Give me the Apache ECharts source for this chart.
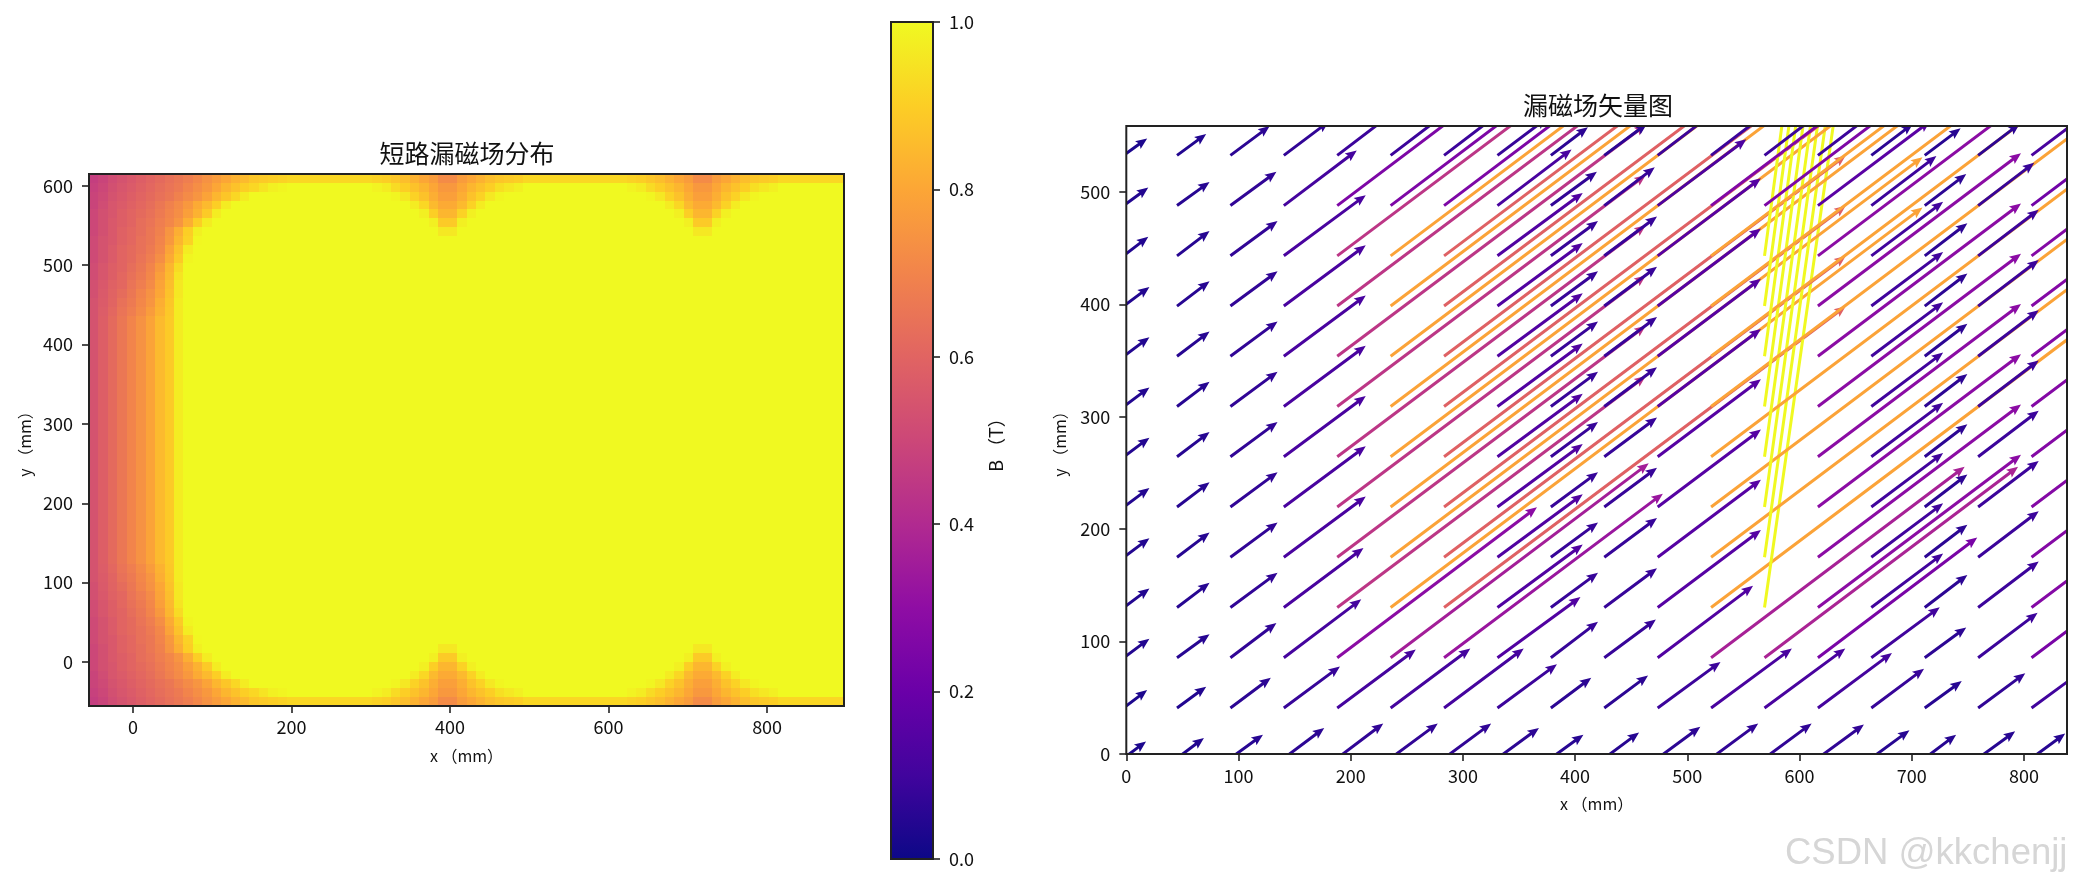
<!DOCTYPE html>
<html><head><meta charset="utf-8">
<style>html,body{margin:0;padding:0;background:#fff}#c{width:2084px;height:884px}</style>
<script src="https://cdn.jsdelivr.net/npm/echarts@6/dist/echarts.min.js"></script>
</head><body><div id="c"></div>
<script>
// ---------- heat map readings (B in T, saturated at 1) ----------
const heatCols = 80, heatRows = 60;
const heatXRange = [-55.5, 897], heatYRange = [-55.5, 615];
const topBandValue = 0.92;
const leftEdgeRows = [
 [.47,.49,.52,.54,.56,.58,.60,.62,.64,.66,.68,.71,.74,.77,.80,.83,.85,.88,.89,.90,.91],
 [.48,.50,.53,.55,.57,.59,.61,.63,.65,.67,.70,.73,.76,.80,.84,.87,.90,.92,.95,.98,.99],
 [.49,.51,.54,.56,.58,.60,.62,.64,.66,.69,.72,.75,.79,.84,.88,.92,.97],
 [.49,.52,.55,.57,.59,.61,.63,.66,.69,.72,.76,.81,.85,.90,.97],
 [.50,.53,.55,.58,.60,.62,.64,.67,.70,.73,.78,.83,.89,.97],
 [.50,.53,.56,.58,.60,.63,.65,.68,.71,.75,.82,.90,.97],
 [.50,.53,.56,.59,.61,.63,.66,.69,.75,.82,.90,.98],
 [.51,.54,.56,.59,.61,.64,.66,.70,.76,.84,.91,.995],
 [.51,.54,.57,.60,.62,.64,.67,.71,.79,.87,.97],
 [.51,.54,.57,.60,.62,.65,.68,.73,.81,.89,.99],
 [.52,.55,.58,.60,.63,.66,.70,.76,.84,.93],
 [.52,.55,.58,.61,.64,.67,.71,.78,.85,.95],
 [.53,.56,.59,.61,.65,.68,.72,.79,.86,.96],
 [.53,.565,.595,.625,.66,.70,.74,.80,.87,.96],
 [.54,.57,.60,.64,.67,.71,.75,.82,.88,.97],
 [.54,.575,.61,.65,.68,.72,.77,.83,.885,.97]
];
const leftMiddleRow = [.54,.58,.62,.66,.70,.74,.79,.85,.89,.97];
const notchStartCols = [30, 57];
const notchRows = [
 [.91,.90,.88,.86,.83,.80,.77,.72,.72,.77,.80,.83,.86,.88,.89,.90],
 [.985,.97,.93,.90,.87,.84,.80,.76,.76,.80,.84,.87,.90,.94,.96,.98],
 [1,1,.99,.96,.91,.87,.82,.78,.78,.82,.87,.91,.96,.99,1,1],
 [1,1,1,1,.97,.92,.85,.81,.81,.85,.91,.97,1,1,1,1],
 [1,1,1,1,1,.98,.90,.84,.84,.91,.98,1,1,1,1,1],
 [1,1,1,1,1,1,.98,.89,.89,.98,1,1,1,1,1,1],
 [1,1,1,1,1,1,1,.96,.96,1,1,1,1,1,1,1]
];
// ---------- vector field readings (mm) ----------
const gridX = [-2.4,45.2,92.8,140.4,188,235.6,283.2,330.8,378.4,426,473.6,521.2,568.8,616.4,664,711.6,759.2,806.8];
const gridY = [-3.8,40.9,85.6,130.3,175,219.7,264.4,309.1,353.8,398.5,443.2,487.9,532.6];
const arrowU = [
 [20,24,29,36,41,42,42,37,29,31,38,42,42,41,34,28,33,30],
 [21,26,36,50,70,71,71,53,36,39,56,72,72,66,47,33,42,60],
 [23,29,41,69,178,230,195,74,42,46,85,226,226,142,61,37,53,150],
 [23,29,42,71,275,474,358,76,42,47,92,474,80,181,64,38,54,180],
 [23,29,42,73,275,474,358,76,42,47,92,474,79,181,64,38,54,180],
 [23,29,42,73,275,474,358,76,42,47,92,474,78,181,64,38,54,180],
 [23,29,42,73,275,474,358,76,42,47,92,474,78,181,64,38,54,180],
 [23,29,42,73,275,474,358,76,42,47,92,474,77,181,64,38,54,180],
 [23,29,42,73,275,474,358,76,42,47,92,474,76,181,64,38,54,180],
 [23,29,42,73,275,474,358,76,42,47,92,474,76,181,64,38,54,180],
 [22,29,42,73,275,474,358,76,42,47,92,474,75,181,64,38,54,180],
 [22,29,41,65,150,150,150,66,41,45,79,160,150,100,58,37,50,120],
 [21,26,35,40,50,50,50,44,33,38,50,50,50,50,37,32,37,60]
];
const arrowV = [
 [15,18,21,27,31,31,31,27,21,23,28,31,31,30,25,21,24,22],
 [16,19,27,37,52,53,53,39,27,29,41,53,53,49,35,24,31,44],
 [17,21,31,52,134,173,146,54,32,34,64,170,170,107,45,27,40,113],
 [17,22,31,53,206,356,268,56,31,35,69,356,560,136,48,29,41,135],
 [17,22,31,54,206,356,268,56,31,35,69,356,560,136,48,29,41,135],
 [17,22,31,54,206,356,268,56,31,35,69,356,560,136,48,29,41,135],
 [17,22,31,54,206,356,268,56,31,35,69,356,560,136,48,29,41,135],
 [17,22,31,54,206,356,268,56,31,35,69,356,560,136,48,29,41,135],
 [17,22,31,54,206,356,268,56,31,35,69,356,560,136,48,29,41,135],
 [17,22,31,54,206,356,268,56,31,35,69,356,560,136,48,29,41,135],
 [17,22,31,54,206,356,268,56,31,35,69,356,560,136,48,29,41,135],
 [16,21,30,49,113,113,113,50,30,34,59,120,113,75,44,28,38,90],
 [15,19,26,30,38,38,38,33,25,28,38,38,38,38,28,24,28,45]
];
const arrowB = [
 [.03,.04,.05,.06,.07,.07,.07,.06,.05,.05,.06,.07,.07,.07,.05,.05,.05,.05],
 [.03,.04,.06,.08,.11,.11,.11,.09,.06,.06,.09,.12,.12,.11,.08,.05,.07,.10],
 [.04,.05,.07,.11,.29,.36,.33,.14,.08,.08,.14,.37,.38,.24,.10,.06,.09,.24],
 [.04,.05,.07,.12,.44,.79,.59,.14,.08,.08,.15,.79,1,.29,.10,.06,.09,.27],
 [.04,.05,.07,.12,.44,.79,.59,.14,.08,.08,.15,.79,1,.29,.10,.06,.09,.27],
 [.04,.05,.07,.12,.44,.79,.59,.14,.08,.08,.15,.79,1,.29,.10,.06,.09,.27],
 [.04,.05,.07,.12,.44,.79,.59,.14,.08,.08,.15,.79,1,.29,.10,.06,.09,.27],
 [.04,.05,.07,.12,.44,.79,.59,.14,.08,.08,.15,.79,1,.29,.10,.06,.09,.27],
 [.04,.05,.07,.12,.44,.79,.59,.14,.08,.08,.15,.79,1,.29,.10,.06,.09,.27],
 [.04,.05,.07,.12,.44,.79,.59,.14,.08,.08,.15,.79,1,.29,.10,.06,.09,.27],
 [.04,.05,.07,.12,.44,.79,.59,.14,.08,.08,.15,.79,1,.29,.10,.06,.09,.27],
 [.04,.05,.07,.11,.25,.25,.25,.12,.07,.08,.13,.26,.25,.16,.09,.06,.08,.22],
 [.03,.04,.06,.07,.09,.09,.09,.08,.06,.06,.09,.09,.09,.09,.06,.05,.06,.12]
];
// ---------- axes ----------
const heatXTicks = [0,200,400,600,800];
const heatYTicks = [0,100,200,300,400,500,600];
const vecXRange = [0,838.4], vecYRange = [0,558.7];
const vecXTicks = [0,100,200,300,400,500,600,700,800];
const vecYTicks = [0,100,200,300,400,500];
const barTicks = [0,0.2,0.4,0.6,0.8,1];
const plasmaStops = ['#0d0887','#41049d','#6a00a8','#8f0da4','#b12a90','#cc4778','#e16462','#f2844b','#fca636','#fcce25','#f0f921'];

function plasma(t){
  t=Math.max(0,Math.min(1,t))*(plasmaStops.length-1);
  const i=Math.min(Math.floor(t),plasmaStops.length-2),f=t-i;
  const h=s=>[1,3,5].map(k=>parseInt(s.substr(k,2),16));
  const a=h(plasmaStops[i]),b=h(plasmaStops[i+1]);
  return 'rgb('+a.map((v,k)=>Math.round(v+(b[k]-v)*f)).join(',')+')';
}
// heat cells: [x0,y0,x1,y1,B]; the lower half repeats the upper half as in the picture
const dx=(heatXRange[1]-heatXRange[0])/heatCols, dy=(heatYRange[1]-heatYRange[0])/heatRows;
const heatData=[];
for(let r=0;r<heatRows;r++){
  const m=Math.min(r,heatRows-1-r);
  const row=new Array(heatCols).fill(m===0?topBandValue:1);
  (leftEdgeRows[m]||leftMiddleRow).forEach((v,c)=>row[c]=v);
  if(notchRows[m]) notchStartCols.forEach(s=>notchRows[m].forEach((v,c)=>{row[s+c]=v;}));
  row.forEach((v,c)=>heatData.push([heatXRange[0]+c*dx,heatYRange[1]-r*dy,heatXRange[0]+(c+1)*dx,heatYRange[1]-(r+1)*dy,v]));
}
const arrowData=[];
gridY.forEach((y,r)=>gridX.forEach((x,c)=>arrowData.push([x,y,arrowU[r][c],arrowV[r][c],arrowB[r][c]])));

const FONT='"Noto Sans CJK SC","Liberation Sans",sans-serif', INK='#222';
const axisBase=(ticks,extra,labelMargin)=>Object.assign({
  type:'value',scale:false,splitLine:{show:false},axisLine:{show:false,onZero:false},
  axisTick:{show:true,length:7,inside:false,customValues:ticks,lineStyle:{color:INK,width:1.6}},
  axisLabel:{show:true,customValues:ticks,color:'#111',fontFamily:FONT,fontSize:18,margin:labelMargin,hideOverlap:false},
  nameLocation:'middle',nameTextStyle:{color:'#111',fontFamily:FONT,fontSize:16}
},extra);

function frameSeries(xi,yi,box){
  return {type:'custom',xAxisIndex:xi,yAxisIndex:yi,z:20,silent:true,clip:false,animation:false,
    data:[box],encode:{x:[0,2],y:[1,3]},
    renderItem(p,api){
      const a=api.coord([api.value(0),api.value(1)]),b=api.coord([api.value(2),api.value(3)]);
      return {type:'rect',shape:{x:a[0],y:b[1],width:b[0]-a[0],height:a[1]-b[1]},style:{fill:'none',stroke:INK,lineWidth:2}};
    }};
}

const option={
  animation:false,backgroundColor:'#fff',
  title:[
    {text:'短路漏磁场分布',left:462,top:136,textAlign:'center',textStyle:{fontFamily:FONT,fontSize:25,fontWeight:'normal',color:'#111'}},
    {text:'漏磁场矢量图',left:1593,top:88,textAlign:'center',textStyle:{fontFamily:FONT,fontSize:25,fontWeight:'normal',color:'#111'}}
  ],
  grid:[
    {left:89,top:174,width:755,height:532},
    {left:1126.3,top:126,width:940.7,height:628},
    {left:891,top:22,width:42,height:837}
  ],
  xAxis:[
    axisBase(heatXTicks,{gridIndex:0,min:heatXRange[0],max:heatXRange[1],name:'x （mm）',nameGap:42},12),
    axisBase(vecXTicks,{gridIndex:1,min:vecXRange[0],max:vecXRange[1],name:'x （mm）',nameGap:42},13),
    {type:'value',gridIndex:2,min:0,max:1,show:false}
  ],
  yAxis:[
    axisBase(heatYTicks,{gridIndex:0,min:heatYRange[0],max:heatYRange[1],name:'y （mm）',nameGap:56},16),
    axisBase(vecYTicks,{gridIndex:1,min:vecYRange[0],max:vecYRange[1],name:'y （mm）',nameGap:58},16),
    axisBase(barTicks,{gridIndex:2,min:0,max:1,position:'right',name:'B （T）',nameRotate:90,nameGap:54,
      nameTextStyle:{color:'#111',fontFamily:FONT,fontSize:18},
      axisLabel:{show:true,customValues:barTicks,color:'#111',fontFamily:FONT,fontSize:18,margin:16,formatter:v=>Number(v).toFixed(1)}},16)
  ],
  graphic:[{type:'text',left:1785,top:835,z:50,silent:true,
    style:{text:'CSDN @kkchenjj',fontFamily:'"Liberation Sans",sans-serif',fontSize:36.5,fill:'#d6d6d6',shadowBlur:2,shadowColor:'#777',shadowOffsetX:1,shadowOffsetY:1}}],
  series:[
    {type:'custom',name:'B',xAxisIndex:0,yAxisIndex:0,clip:true,progressive:0,silent:true,animation:false,
     data:heatData,encode:{x:[0,2],y:[1,3]},
     renderItem(p,api){
       const a=api.coord([api.value(0),api.value(1)]),b=api.coord([api.value(2),api.value(3)]);
       const x0=Math.round(a[0]),y0=Math.round(a[1]),x1=Math.round(b[0]),y1=Math.round(b[1]);
       return {type:'rect',shape:{x:x0,y:y0,width:x1-x0,height:y1-y0},style:{fill:plasma(api.value(4))}};
     }},
    frameSeries(0,0,[heatXRange[0],heatYRange[0],heatXRange[1],heatYRange[1]]),
    {type:'custom',name:'vectors',xAxisIndex:1,yAxisIndex:1,clip:true,progressive:0,silent:true,animation:false,
     data:arrowData,encode:{x:0,y:1},
     renderItem(p,api){
       const x=api.value(0),y=api.value(1);
       const a=api.coord([x,y]),b=api.coord([x+api.value(2),y+api.value(3)]);
       const ang=Math.atan2(b[1]-a[1],b[0]-a[0]),L=Math.hypot(b[0]-a[0],b[1]-a[1]);
       const w=1.5,hl=Math.min(11.5,L),ha=Math.min(10,L),hw=4.8;
       const local=[[0,-w],[L-ha,-w],[L-hl,-hw],[L,0],[L-hl,hw],[L-ha,w],[0,w]];
       const c=Math.cos(ang),s=Math.sin(ang);
       return {type:'polygon',shape:{points:local.map(q=>[a[0]+q[0]*c-q[1]*s,a[1]+q[0]*s+q[1]*c])},style:{fill:plasma(api.value(4))}};
     }},
    frameSeries(1,1,[vecXRange[0],vecYRange[0],vecXRange[1],vecYRange[1]]),
    {type:'custom',name:'colorbar',xAxisIndex:2,yAxisIndex:2,silent:true,animation:false,
     data:[[0,0,1,1]],encode:{x:[0,2],y:[1,3]},
     renderItem(p,api){
       const a=api.coord([0,0]),b=api.coord([1,1]);
       const stops=plasmaStops.map((color,i)=>({offset:i/(plasmaStops.length-1),color}));
       return {type:'rect',shape:{x:a[0],y:b[1],width:b[0]-a[0],height:a[1]-b[1]},
         style:{fill:new echarts.graphic.LinearGradient(0,1,0,0,stops)}};
     }},
    frameSeries(2,2,[0,0,1,1])
  ]
};
echarts.init(document.getElementById('c'),null,{renderer:'canvas'}).setOption(option);
</script>
</body></html>
